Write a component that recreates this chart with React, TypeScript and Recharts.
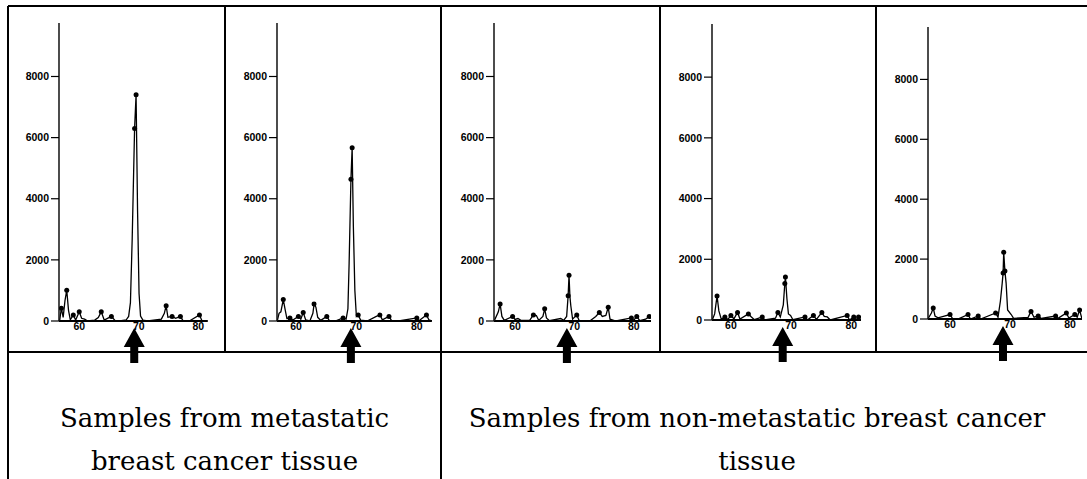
import React from "react";
import { LineChart, Line, XAxis, YAxis, ReferenceDot } from "recharts";

// m/z vs. intensity pairs for each tissue sample
const metastatic1: [number, number][] = [
  [56.7, 0], [57.0, 420], [57.3, 120], [57.6, 660], [57.9, 1010], [58.2, 350], [58.5, 40],
  [59.0, 200], [59.4, 30], [60.0, 300], [60.4, 90], [60.9, 60], [61.4, 0], [62.6, 30],
  [63.2, 110], [63.7, 300], [64.2, 30], [65.4, 150], [66.0, 20], [66.8, 0], [67.9, 40],
  [68.3, 150], [68.6, 600], [68.9, 2700], [69.3, 6300], [69.55, 7400], [69.8, 3600],
  [70.05, 900], [70.3, 160], [70.7, 30], [71.5, 0], [73.8, 60], [74.3, 250], [74.6, 500],
  [74.9, 120], [75.6, 150], [76.2, 90], [77.0, 150], [77.4, 20], [78.5, 0], [80.2, 200],
  [80.6, 20], [81.5, 0],
];

const metastatic2: [number, number][] = [
  [56.9, 0], [57.2, 250], [57.5, 300], [57.9, 700], [58.2, 380], [58.5, 80], [59.0, 100],
  [59.5, 30], [60.4, 150], [60.8, 60], [61.2, 280], [61.6, 40], [62.3, 0], [62.8, 250],
  [63.0, 560], [63.3, 450], [63.6, 120], [64.1, 20], [65.1, 150], [65.5, 20], [66.5, 0],
  [67.8, 100], [68.3, 60], [68.6, 400], [68.8, 1900], [69.1, 4640], [69.3, 5670],
  [69.5, 3100], [69.75, 1000], [70.0, 150], [70.3, 200], [70.7, 30], [71.8, 0],
  [73.3, 150], [73.9, 200], [74.3, 40], [75.4, 150], [75.8, 20], [77.0, 0], [80.0, 100],
  [80.3, 0], [81.6, 200], [82.0, 40], [82.5, 0],
];

const nonMetastatic1: [number, number][] = [
  [56.5, 0], [57.2, 300], [57.5, 560], [57.8, 150], [58.2, 20], [59.6, 150], [60.0, 50],
  [60.5, 80], [61.0, 20], [62.5, 30], [63.1, 200], [63.6, 180], [64.0, 20], [64.7, 150],
  [65.0, 400], [65.3, 100], [65.8, 10], [67.7, 80], [68.2, 20], [68.7, 150], [68.95, 830],
  [69.1, 1500], [69.25, 800], [69.4, 500], [69.7, 60], [70.4, 200], [70.8, 20], [72.6, 0],
  [73.6, 150], [74.2, 280], [74.7, 150], [75.3, 180], [75.7, 450], [76.0, 60], [77.0, 0],
  [79.6, 100], [80.0, 20], [80.5, 150], [81.0, 10], [82.0, 60], [82.6, 150], [82.9, 100],
];

const nonMetastatic2: [number, number][] = [
  [56.9, 0], [57.3, 200], [57.5, 500], [57.7, 790], [58.0, 300], [58.4, 30], [59.0, 100],
  [59.5, 20], [60.0, 150], [60.5, 40], [61.1, 250], [61.5, 30], [62.9, 200], [63.4, 100],
  [63.9, 10], [65.2, 100], [65.6, 0], [67.4, 60], [67.8, 250], [68.2, 100], [68.7, 500],
  [68.95, 1200], [69.05, 1420], [69.3, 700], [69.55, 200], [69.9, 150], [70.3, 10],
  [72.3, 100], [72.7, 0], [73.7, 150], [74.2, 20], [75.1, 250], [75.5, 120], [76.0, 100],
  [76.5, 0], [79.3, 150], [79.7, 0], [80.4, 100], [80.8, 0], [81.2, 100], [81.6, 0],
];

const nonMetastatic3: [number, number][] = [
  [56.3, 0], [56.9, 200], [57.2, 370], [57.5, 100], [58.0, 40], [60.0, 150], [60.4, 20],
  [61.5, 10], [63.0, 150], [63.4, 0], [64.7, 100], [65.1, 0], [67.6, 200], [68.0, 60],
  [68.4, 600], [68.7, 1200], [68.85, 1540], [68.95, 2230], [69.15, 1600], [69.35, 1200],
  [69.6, 300], [70.2, 150], [70.6, 20], [73.0, 50], [73.5, 250], [74.0, 60], [74.7, 100],
  [75.2, 20], [77.6, 100], [78.0, 20], [79.4, 200], [79.8, 30], [80.8, 150], [81.2, 60],
  [81.6, 300], [82.0, 0],
];

const spectra = [metastatic1, metastatic2, nonMetastatic1, nonMetastatic2, nonMetastatic3];

// m/z of the marker peak pointed out under each spectrum
const markerMz = [69.24, 69.09, 68.74, 68.6, 68.83];

const yTicks = [0, 2000, 4000, 6000, 8000];
const xTicks = [60, 70, 80];
const yMax = 9750;

const groupCaptions = [
  ["Samples from metastatic", "breast cancer tissue"],
  ["Samples from non-metastatic breast cancer", "tissue"],
];

// Plot-area placement of every spectrum on the page
const panelLayout = [
  { axisX: 59, plotRight: 207.8, plotTop: 23, plotBottom: 321, domain: [56.6, 81.6] },
  { axisX: 277, plotRight: 431.9, plotTop: 23, plotBottom: 321, domain: [56.86, 82.5] },
  { axisX: 494, plotRight: 651, plotTop: 23, plotBottom: 321, domain: [56.47, 82.9] },
  { axisX: 712, plotRight: 861, plotTop: 24, plotBottom: 320, domain: [56.86, 81.6] },
  { axisX: 928, plotRight: 1082, plotTop: 27, plotBottom: 319, domain: [56.33, 82.0] },
];

const CHART_H = 372;
const Y_AXIS_W = 40;
const X_AXIS_H = 20;
const LEFT_PAD = 50;

const tickFont = {
  fill: "#000",
  fontSize: 10.5,
  fontWeight: 700,
  fontFamily: "'Liberation Sans Narrow', 'Liberation Sans', Arial, sans-serif",
};

const Arrow = (props: any) => {
  const { cx, cy } = props;
  if (cx == null || cy == null) return null;
  const tip = cy + 7;
  const headBase = tip + 19;
  const tail = tip + 35;
  const path = `M${cx},${tip} L${cx + 10.5},${headBase} L${cx + 4},${headBase} L${cx + 4},${tail} L${cx - 4},${tail} L${cx - 4},${headBase} L${cx - 10.5},${headBase} Z`;
  return <path d={path} fill="#000" />;
};

function Spectrum({ index }: { index: number }) {
  const layout = panelLayout[index];
  const rows = spectra[index].map(([mz, intensity]) => ({ mz, intensity }));
  const peakMax = Math.max(...rows.map((r) => r.intensity));
  const left = layout.axisX - LEFT_PAD;
  const width = layout.plotRight - left + 4;

  const renderDot = (p: any) => {
    const i = p.index;
    const v = rows[i].intensity;
    const prev = i > 0 ? rows[i - 1].intensity : 0;
    const next = i < rows.length - 1 ? rows[i + 1].intensity : 0;
    const isPeak = v >= 100 && ((v >= prev && v >= next) || v >= 0.55 * peakMax);
    if (!isPeak) return <g key={`d${i}`} />;
    return <circle key={`d${i}`} cx={p.cx} cy={p.cy} r={2.5} fill="#000" />;
  };

  return (
    <div style={{ position: "absolute", left, top: 0 }}>
      <LineChart
        width={width}
        height={CHART_H}
        data={rows}
        margin={{
          top: layout.plotTop,
          right: 4,
          left: LEFT_PAD - Y_AXIS_W,
          bottom: CHART_H - layout.plotBottom - X_AXIS_H,
        }}
      >
        <XAxis
          type="number"
          dataKey="mz"
          domain={layout.domain}
          allowDataOverflow
          ticks={xTicks}
          tickLine={false}
          tickSize={1}
          tickMargin={1}
          height={X_AXIS_H}
          tick={tickFont}
          axisLine={{ stroke: "#000", strokeWidth: 2 }}
        />
        <YAxis
          type="number"
          dataKey="intensity"
          domain={[0, yMax]}
          ticks={yTicks}
          width={Y_AXIS_W}
          tickSize={8}
          tickMargin={2}
          tick={tickFont}
          tickLine={{ stroke: "#000", strokeWidth: 1.2 }}
          axisLine={{ stroke: "#111", strokeWidth: 1.5 }}
          allowDataOverflow
        />
        <Line
          type="linear"
          dataKey="intensity"
          stroke="#000"
          strokeWidth={1.3}
          dot={renderDot}
          activeDot={false}
          isAnimationActive={false}
        />
        <ReferenceDot
          x={markerMz[index]}
          y={0}
          ifOverflow="visible"
          shape={(p: any) => <Arrow {...p} />}
        />
      </LineChart>
    </div>
  );
}

export default function App() {
  const line = { stroke: "#000", strokeWidth: 2 };
  const captionStyle = {
    fontFamily: "'DejaVu Serif', 'Liberation Serif', serif",
    fontSize: 26,
    fill: "#000",
  } as const;
  return (
    <div
      style={{
        position: "absolute",
        left: 0,
        top: 0,
        width: 1087,
        height: 479,
        background: "#fff",
        overflow: "hidden",
      }}
    >
      <svg width={1087} height={479} style={{ position: "absolute", left: 0, top: 0 }}>
        {/* table frame */}
        <line x1={8} y1={6} x2={1087} y2={6} {...line} />
        <line x1={8} y1={6} x2={8} y2={479} {...line} />
        <line x1={225} y1={6} x2={225} y2={352} {...line} />
        <line x1={441} y1={6} x2={441} y2={479} {...line} />
        <line x1={660} y1={6} x2={660} y2={352} {...line} />
        <line x1={876} y1={6} x2={876} y2={352} {...line} />
        <line x1={8} y1={352} x2={1087} y2={352} {...line} />
        {/* group captions */}
        {groupCaptions[0].map((t, i) => (
          <text key={`a${i}`} x={224.5} y={427 + i * 43} textAnchor="middle" {...captionStyle}>
            {t}
          </text>
        ))}
        {groupCaptions[1].map((t, i) => (
          <text key={`b${i}`} x={757} y={427 + i * 43} textAnchor="middle" {...captionStyle}>
            {t}
          </text>
        ))}
      </svg>
      {spectra.map((_, i) => (
        <Spectrum key={i} index={i} />
      ))}
    </div>
  );
}
